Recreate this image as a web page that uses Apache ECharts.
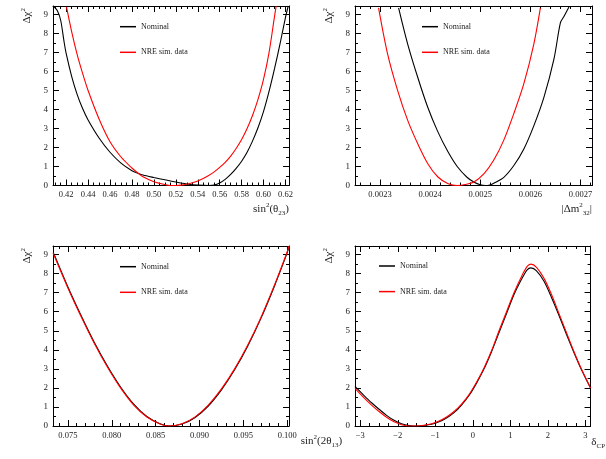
<!DOCTYPE html>
<html>
<head>
<meta charset="utf-8">
<script src="https://cdn.jsdelivr.net/npm/echarts@6/dist/echarts.min.js"></script>
<style>
  html, body { margin: 0; padding: 0; background: #fff; }
  #chart { width: 606px; height: 459px; }
</style>
</head>
<body>
<div id="chart"></div>
<script>
// sin^2(theta23) scan
var th23NomX = [0.409, 0.412, 0.415, 0.418, 0.42, 0.425, 0.43, 0.435, 0.44, 0.45, 0.46, 0.47, 0.48, 0.486, 0.49, 0.50, 0.51, 0.52, 0.53, 0.54, 0.55, 0.555, 0.56, 0.565, 0.57, 0.575, 0.58, 0.585, 0.59, 0.595, 0.60, 0.605, 0.61, 0.615, 0.62, 0.6225];
var th23NomY = [9.4, 9.2, 8.7, 7.6, 6.95, 5.75, 4.8, 4.05, 3.45, 2.5, 1.75, 1.18, 0.78, 0.63, 0.55, 0.42, 0.3, 0.18, 0.08, 0.02, 0.0, 0.02, 0.13, 0.32, 0.58, 0.9, 1.28, 1.75, 2.35, 3.05, 3.9, 4.95, 6.15, 7.45, 8.85, 9.45];
var th23NreX = [0.4203, 0.425, 0.43, 0.435, 0.44, 0.45, 0.46, 0.47, 0.48, 0.486, 0.49, 0.50, 0.51, 0.515, 0.52, 0.525, 0.53, 0.535, 0.54, 0.545, 0.55, 0.555, 0.56, 0.565, 0.57, 0.575, 0.58, 0.585, 0.59, 0.595, 0.60, 0.605, 0.61, 0.6115];
var th23NreY = [9.4, 8.1, 6.9, 5.9, 5.0, 3.5, 2.3, 1.5, 0.92, 0.63, 0.46, 0.2, 0.05, 0.0, 0.0, 0.02, 0.07, 0.14, 0.24, 0.37, 0.53, 0.72, 0.95, 1.22, 1.55, 1.95, 2.42, 3.0, 3.7, 4.55, 5.6, 7.0, 8.9, 9.45];

// |dm2_32| scan
var dmNomX = [0.002337, 0.002355, 0.002375, 0.002395, 0.002415, 0.002435, 0.002454, 0.002474, 0.002488, 0.0025, 0.00251, 0.002517, 0.002527, 0.002547, 0.002567, 0.002587, 0.002607, 0.002627, 0.002647, 0.00266, 0.002667, 0.002677];
var dmNomY = [9.35, 7.46, 5.71, 4.13, 2.85, 1.8, 1.0, 0.42, 0.17, 0.04, 0.0, 0.01, 0.12, 0.43, 1.05, 1.92, 3.15, 4.64, 6.65, 8.57, 8.9, 9.4];
var dmNreX = [0.002297, 0.002315, 0.002335, 0.002355, 0.002375, 0.002395, 0.002415, 0.002435, 0.002454, 0.00247, 0.002488, 0.002508, 0.002527, 0.002547, 0.002567, 0.002587, 0.002607, 0.00262];
var dmNreY = [9.35, 6.93, 5.01, 3.44, 2.21, 1.16, 0.46, 0.11, 0.0, 0.05, 0.2, 0.64, 1.34, 2.39, 3.79, 5.36, 7.46, 9.35];

// sin^2(2theta13) scan
var th13NomX = [0.0734, 0.075, 0.0765, 0.078, 0.0795, 0.081, 0.0825, 0.084, 0.0855, 0.0866, 0.088, 0.0895, 0.091, 0.0925, 0.094, 0.0955, 0.097, 0.0985, 0.1, 0.1002];
var th13NomY = [9.05, 7.3, 5.8, 4.4, 3.15, 2.05, 1.15, 0.5, 0.12, 0.0, 0.1, 0.45, 1.05, 1.9, 2.95, 4.2, 5.65, 7.3, 9.1, 9.4];
var th13NreX = [0.0733, 0.075, 0.0765, 0.078, 0.0795, 0.081, 0.0825, 0.084, 0.0855, 0.0864, 0.088, 0.0895, 0.091, 0.0925, 0.094, 0.0955, 0.097, 0.0985, 0.1, 0.1002];
var th13NreY = [9.1, 7.25, 5.75, 4.35, 3.1, 2.0, 1.1, 0.47, 0.1, 0.0, 0.12, 0.48, 1.1, 1.95, 3.0, 4.25, 5.7, 7.35, 9.15, 9.45];

// delta_CP scan
var dcpNomX = [-3.1416, -2.9, -2.7, -2.5, -2.3, -2.1, -1.9, -1.7, -1.5, -1.3, -1.1, -0.9, -0.7, -0.5, -0.3, -0.1, 0.1, 0.3, 0.5, 0.7, 0.9, 1.1, 1.3, 1.45, 1.55, 1.7, 1.9, 2.1, 2.3, 2.5, 2.7, 2.9, 3.1416];
var dcpNomY = [2.08, 1.6, 1.22, 0.88, 0.56, 0.3, 0.12, 0.03, 0.0, 0.03, 0.09, 0.22, 0.42, 0.7, 1.1, 1.6, 2.25, 3.0, 3.9, 4.9, 5.9, 6.9, 7.7, 8.2, 8.3, 8.15, 7.6, 6.75, 5.8, 4.8, 3.85, 2.95, 2.0];
var dcpNreX = dcpNomX;
var dcpNreY = [1.98, 1.48, 1.1, 0.76, 0.46, 0.22, 0.07, 0.0, 0.0, 0.04, 0.12, 0.26, 0.47, 0.76, 1.15, 1.65, 2.3, 3.05, 3.95, 5.0, 6.0, 7.0, 7.85, 8.38, 8.5, 8.33, 7.75, 6.9, 5.9, 4.9, 3.9, 2.98, 2.0];

var seriesNames = ['Nominal', 'NRE sim. data'];

var FONT = 'Liberation Serif';
var rich = {
    n: { fontFamily: FONT, fontSize: 11, lineHeight: 15, color: '#222' },
    sup: { fontFamily: FONT, fontSize: 7, lineHeight: 8, verticalAlign: 'top', color: '#222' },
    sub: { fontFamily: FONT, fontSize: 7, lineHeight: 8, verticalAlign: 'bottom', color: '#222' }
};

function zip(xs, ys) {
    return xs.map(function (x, i) { return [x, ys[i]]; });
}

// ROOT-like axes: frame on all sides, ticks inside
function xAxisPair(grid, min, max, split, minor, fmt, name, nameTop) {
    var base = {
        type: 'value', gridIndex: grid, min: min, max: max, splitNumber: split,
        splitLine: { show: false },
        axisLine: { show: true, onZero: false, lineStyle: { color: '#000', width: 1 } },
        axisTick: { inside: true, length: 6, lineStyle: { color: '#000' } },
        minorTick: { show: true, splitNumber: minor, length: 3, lineStyle: { color: '#000' } }
    };
    var bottom = Object.assign({}, base, {
        position: 'bottom',
        axisLabel: {
            fontFamily: FONT, fontSize: 8.5, color: '#222', margin: 5,
            showMinLabel: false, showMaxLabel: false, formatter: fmt
        },
        name: name, nameLocation: 'end', nameGap: 0,
        nameTextStyle: { align: 'right', verticalAlign: 'top', padding: [nameTop, 0, 0, 0], rich: rich }
    });
    var top = Object.assign({}, base, { position: 'top', axisLabel: { show: false } });
    return [bottom, top];
}

function yAxisPair(grid) {
    var base = {
        type: 'value', gridIndex: grid, min: 0, max: 9.45, splitNumber: 9,
        splitLine: { show: false },
        axisLine: { show: true, onZero: false, lineStyle: { color: '#000', width: 1 } },
        axisTick: { inside: true, length: 6, lineStyle: { color: '#000' } },
        minorTick: { show: true, splitNumber: 2, length: 3, lineStyle: { color: '#000' } }
    };
    var left = Object.assign({}, base, {
        position: 'left',
        axisLabel: { fontFamily: FONT, fontSize: 9, color: '#222', margin: 5, showMaxLabel: false },
        name: '{n|Δχ}{sup|2}', nameLocation: 'end', nameGap: -2, nameRotate: 90,
        nameTextStyle: { align: 'right', verticalAlign: 'bottom', padding: [0, 0, 18, 0], rich: rich }
    });
    var right = Object.assign({}, base, { position: 'right', axisLabel: { show: false } });
    return [left, right];
}

function minusSign(v) { return String(v).replace('-', '\u2212'); }

var xAxes = [].concat(
    xAxisPair(0, 0.408, 0.6232, 10, 4, function (v) { return v.toFixed(2); },
        '{n|sin}{sup|2}{n|(θ}{sub|23}{n|)}', 16),
    xAxisPair(1, 0.00225, 0.002723, 5, 5, function (v) { return v.toFixed(4); },
        '{n||Δm}{sup|2}{sub|32}{n||}', 16),
    xAxisPair(2, 0.0733, 0.1002, 5, 5, function (v) { return v.toFixed(3); },
        '{n|sin}{sup|2}{n|(2θ}{sub|13}{n|)}', 8),
    xAxisPair(3, -3.1416, 3.1416, 6, 4, minusSign,
        '{n|δ}{sub|CP}', 9)
);
var yAxes = [].concat(yAxisPair(0), yAxisPair(1), yAxisPair(2), yAxisPair(3));

function lineSeries(name, color, idx, data) {
    return {
        name: name, type: 'line', xAxisIndex: idx * 2, yAxisIndex: idx * 2,
        data: data, showSymbol: false, smooth: 0.3,
        lineStyle: { color: color, width: 1.1 }, itemStyle: { color: color }
    };
}

var series = [
    lineSeries(seriesNames[0], '#000000', 0, zip(th23NomX, th23NomY)),
    lineSeries(seriesNames[1], '#ff0000', 0, zip(th23NreX, th23NreY)),
    lineSeries(seriesNames[0], '#000000', 1, zip(dmNomX, dmNomY)),
    lineSeries(seriesNames[1], '#ff0000', 1, zip(dmNreX, dmNreY)),
    lineSeries(seriesNames[0], '#000000', 2, zip(th13NomX, th13NomY)),
    lineSeries(seriesNames[1], '#ff0000', 2, zip(th13NreX, th13NreY)),
    lineSeries(seriesNames[0], '#000000', 3, zip(dcpNomX, dcpNomY)),
    lineSeries(seriesNames[1], '#ff0000', 3, zip(dcpNreX, dcpNreY))
];

function legendAt(left, top) {
    return {
        left: left, top: top, orient: 'vertical', padding: 0, itemGap: 15.6,
        itemWidth: 16, itemHeight: 1.5, icon: 'rect', selectedMode: false,
        data: seriesNames,
        textStyle: { fontFamily: FONT, fontSize: 8, lineHeight: 10, color: '#222' }
    };
}

var chart = echarts.init(document.getElementById('chart'));
chart.setOption({
    animation: false,
    backgroundColor: '#fff',
    grid: [
        { left: 53, top: 6, width: 236, height: 179.5 },
        { left: 355, top: 6, width: 237, height: 179.5 },
        { left: 53, top: 246, width: 236, height: 180 },
        { left: 355, top: 246, width: 237, height: 180 }
    ],
    legend: [legendAt(120, 21.7), legendAt(422, 21.7), legendAt(120, 261.7), legendAt(379, 261)],
    xAxis: xAxes,
    yAxis: yAxes,
    series: series
});
</script>
</body>
</html>
